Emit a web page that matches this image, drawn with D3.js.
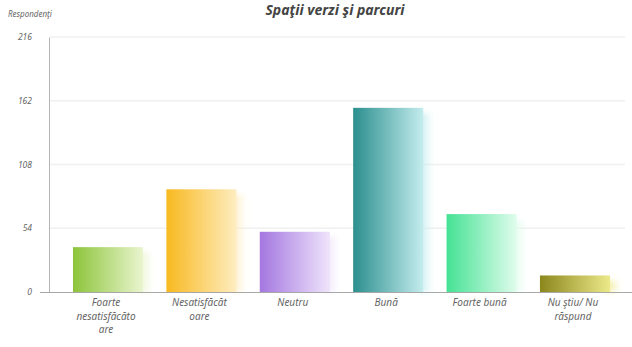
<!DOCTYPE html>
<html><head><meta charset="utf-8">
<script src="https://cdn.jsdelivr.net/npm/d3@7"></script>
<style>body{margin:0;background:#fff;}svg{display:block;}</style>
</head><body>
<svg id="c" width="632" height="347"></svg>
<script>
const title = "Spaţii verzi şi parcuri";
const yTitle = "Respondenţi";
const categories = ["Foarte nesatisfăcătoare","Nesatisfăcătoare","Neutru","Bună","Foarte bună","Nu ştiu/ Nu răspund"];
const categoryLines = [["Foarte","nesatisfăcăto","are"],["Nesatisfăcăt","oare"],["Neutru"],["Bună"],["Foarte bună"],["Nu ştiu/ Nu","răspund"]];
const values = [38, 87, 51, 156, 66, 14];
const yTicks = [0, 54, 108, 162, 216];
const colorsDark = ["#8cc43a","#f8b920","#a477e0","#2b8f8e","#45e294","#8c871c"];
const colorsLight = ["#eaf5cf","#feedc0","#efe4fb","#c4ecee","#dffcec","#ece98a"];

const svg = d3.select("#c");
const font = "'Noto Sans', 'DejaVu Sans', sans-serif";
const x = d3.scaleBand().domain(categories).range([49, 634]).paddingInner(0.25).paddingOuter(0.257);
const y = d3.scaleLinear().domain([0, 216]).range([292, 37]);
const defs = svg.append("defs");
defs.append("filter").attr("id","blur").attr("x","-50%").attr("y","-50%").attr("width","200%").attr("height","200%")
  .append("feGaussianBlur").attr("stdDeviation", 2.5);
categories.forEach((c,i)=>{
  const g = defs.append("linearGradient").attr("id","g"+i).attr("x1","0").attr("x2","1").attr("y1","0").attr("y2","0");
  g.append("stop").attr("offset","0").attr("stop-color",colorsDark[i]);
  g.append("stop").attr("offset","1").attr("stop-color",colorsLight[i]);
  const s = defs.append("linearGradient").attr("id","s"+i).attr("x1","0").attr("x2","1").attr("y1","0").attr("y2","0");
  s.append("stop").attr("offset","0").attr("stop-color",colorsLight[i]).attr("stop-opacity",0.95);
  s.append("stop").attr("offset","1").attr("stop-color",colorsLight[i]).attr("stop-opacity",0);
});

// gridlines
svg.append("g").selectAll("line").data(yTicks.slice(1)).join("line")
  .attr("x1", 50).attr("x2", 625).attr("y1", d=>y(d)).attr("y2", d=>y(d))
  .attr("stroke","#f0f0f0").attr("stroke-width",1.5);

// y axis
const yAxis = svg.append("g").attr("transform","translate(49,0)")
  .call(d3.axisLeft(y).tickValues(yTicks).tickSize(0).tickPadding(17));
yAxis.select(".domain").attr("stroke","#b5b5b5");
yAxis.selectAll("text").attr("font-family",font).attr("font-style","italic").attr("font-size",8.5).attr("fill","#666");

// bars
const bars = svg.append("g");
categories.forEach((c,i)=>{
  const bx = x(c), bw = x.bandwidth(), by = y(values[i]), bh = y(0)-y(values[i]);
  bars.append("rect").attr("x", bx+bw-4).attr("y", by+5).attr("width", 14).attr("height", bh-5)
    .attr("fill","url(#s"+i+")").attr("filter","url(#blur)");
  bars.append("rect").attr("x", bx).attr("y", by).attr("width", bw).attr("height", bh)
    .attr("fill","url(#g"+i+")");
});

// baseline
svg.append("line").attr("x1",40).attr("x2",632).attr("y1",y(0)+0.5).attr("y2",y(0)+0.5).attr("stroke","#a8a8a8");

// x labels
const xl = svg.append("g");
categories.forEach((c,i)=>{
  const cx = x(c)+x.bandwidth()/2 - 2;
  const t = xl.append("text").attr("x", cx).attr("y", 306)
    .attr("text-anchor","middle").attr("font-family",font).attr("font-style","italic")
    .attr("font-size",10).attr("fill","#666");
  categoryLines[i].forEach((l,j)=> t.append("tspan").attr("x", cx).attr("dy", j?13.5:0).text(l));
});

// titles
svg.append("text").attr("x",335).attr("y",15).attr("text-anchor","middle").attr("font-family",font)
  .attr("font-weight","bold").attr("font-style","italic").attr("font-size",14).attr("fill","#444").text(title);
svg.append("text").attr("x",8).attr("y",17).attr("font-family",font).attr("font-style","italic")
  .attr("font-size",8).attr("fill","#666").text(yTitle);
</script>
</body></html>
